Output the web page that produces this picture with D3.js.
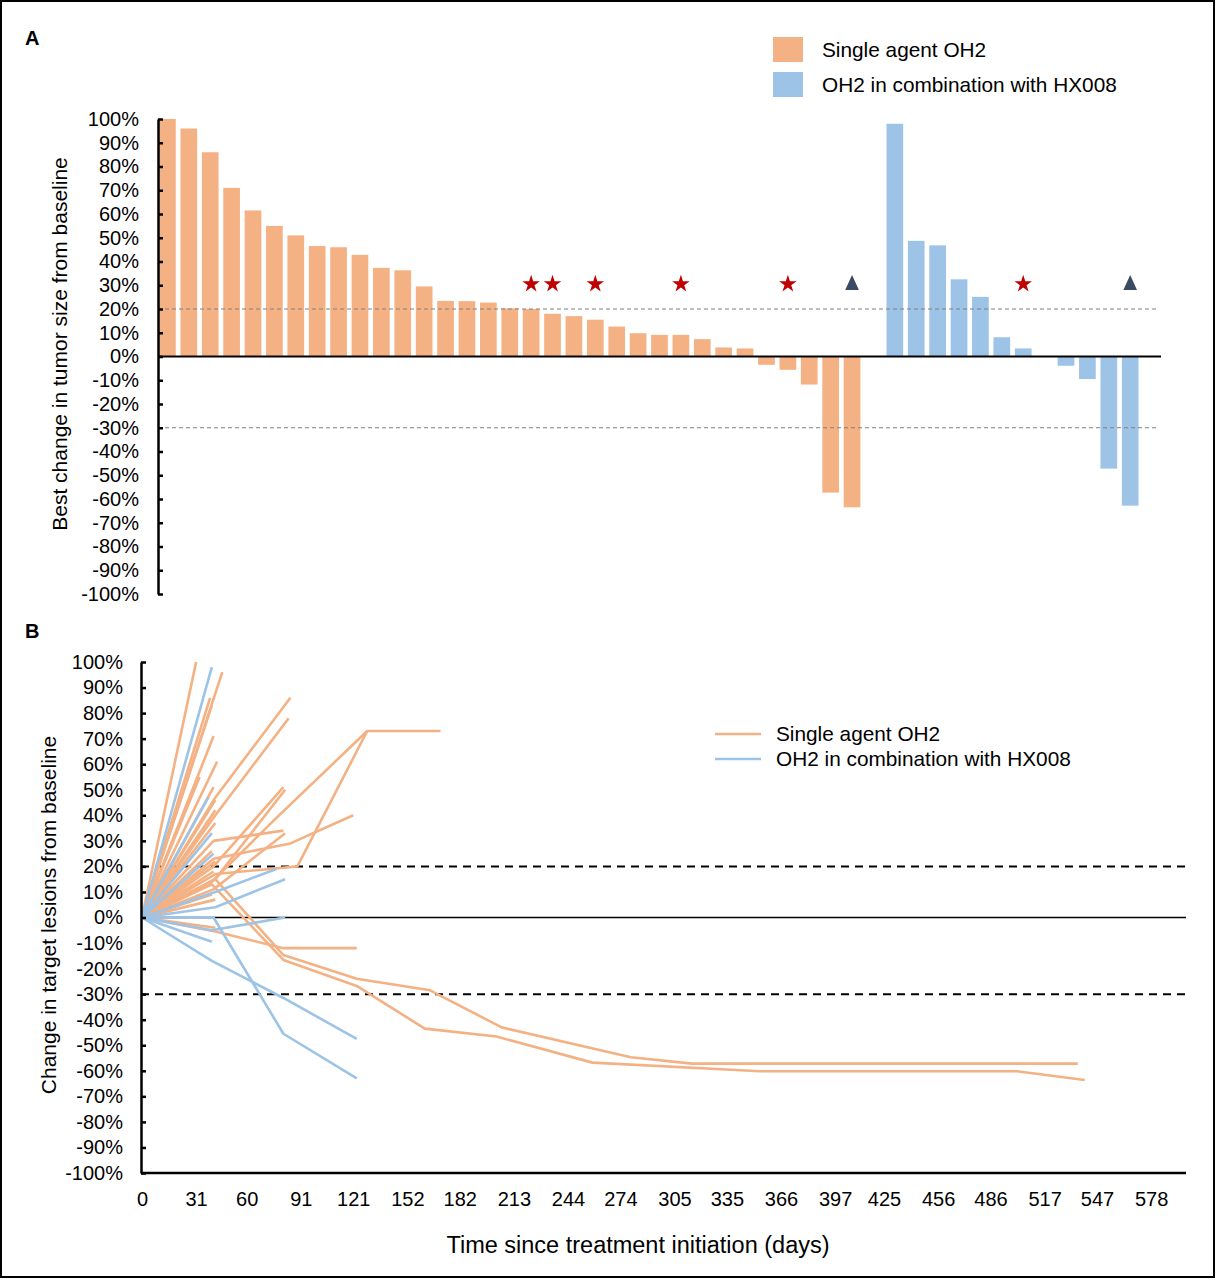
<!DOCTYPE html>
<html>
<head>
<meta charset="utf-8">
<script src="https://cdn.jsdelivr.net/npm/d3@7"></script>
<style>
  html, body { margin: 0; padding: 0; background: #fff; }
  svg { display: block; font-family: Arial, "Liberation Sans", Helvetica, sans-serif; }
</style>
</head>
<body>
<svg id="chart" width="1216" height="1280"></svg>
<script>
// ---------------- DATA ----------------
// Panel A: best change in tumor size (%), waterfall order
const singleAgentIds = d3.range(1, 34).map(i => "S" + i);
const singleAgentValues = [100, 96, 86, 71, 61.5, 55, 51, 46.5, 46, 42.8,
  37.3, 36.3, 29.5, 23.4, 23.3, 22.7, 20.3, 20, 18, 17,
  15.5, 12.6, 9.8, 9.1, 9.1, 7.3, 3.8, 3.4, -3.5, -5.6,
  -11.8, -57.3, -63.5];
const comboIds = d3.range(1, 12).map(i => "C" + i);
const comboValues = [98, 48.7, 46.8, 32.5, 25.1, 8.1, 3.4, -3.9, -9.5, -47.2, -62.8];
const categories = [...singleAgentIds, "gap1", ...comboIds.slice(0, 7), "gap2", ...comboIds.slice(7), "gap3"];
const starIds = ["S18", "S19", "S21", "S25", "S30", "C7"];
const triangleIds = ["S33", "C11"];
const markerLevel = 30.5;
const refLinesA = [20, -30];
const yTicksA = d3.range(-100, 101, 10);

// Panel B: change in target lesions over time [day, %]
const singleAgentLines = [
  [[0,0],[31,100]],
  [[0,0],[46,96]],
  [[0,0],[39,86]],
  [[0,0],[40,83]],
  [[0,0],[41,71]],
  [[0,0],[43,61]],
  [[0,0],[33,55]],
  [[0,0],[41,51]],
  [[0,0],[42,46]],
  [[0,0],[42,42]],
  [[0,0],[42,37]],
  [[0,0],[42,47],[85,86]],
  [[0,0],[42,40],[84,78]],
  [[0,0],[41,20],[81,51]],
  [[0,0],[42,15],[82,50]],
  [[0,0],[41,30],[81,34]],
  [[0,0],[41,11],[82,33]],
  [[0,0],[41,23],[85,29],[121,40]],
  [[0,0],[40,14],[77,39],[129,73]],
  [[0,0],[42,17],[89,20],[129,73],[171,73]],
  [[0,0],[40,26]],
  [[0,0],[42,22]],
  [[0,0],[41,18]],
  [[0,0],[40,9]],
  [[0,0],[42,7]],
  [[0,0],[42,-4]],
  [[0,0],[42,-5.5],[81,-12],[123,-12]],
  [[0,0],[42,15],[81,-14.7],[123,-24],[165,-28.5],[206,-43],[280,-54.7],[315,-57.2],[536,-57.2]],
  [[0,0],[40,13],[81,-16.6],[123,-26.8],[162,-43.5],[203,-46.6],[258,-56.8],[354,-60.2],[501,-60.2],[540,-63.6]]
];
const comboLines = [
  [[0,0],[40,98]],
  [[0,0],[38,47]],
  [[0,0],[40,33]],
  [[0,0],[41,25]],
  [[0,0],[42,10],[77,19]],
  [[0,0],[42,4],[82,15]],
  [[0,0],[40,-5],[82,0]],
  [[0,0],[40,-9.5]],
  [[0,0],[40,-17],[81,-31.5],[123,-47.5]],
  [[0,0],[41,0],[81,-45.5],[123,-63]]
];
const xTickDays = [0, 31, 60, 91, 121, 152, 182, 213, 244, 274, 305, 335, 366, 397, 425, 456, 486, 517, 547, 578];
const yTicksB = d3.range(-100, 101, 10);
const refLinesB = [20, -30];

const seriesNames = ["Single agent OH2", "OH2 in combination with HX008"];
const colors = { single: "#f4b183", combo: "#9dc3e6" };

// ---------------- DRAW ----------------
const svg = d3.select("#chart");
const pct = d => d + "%";
const FONT = "Arial, 'Liberation Sans', sans-serif";

// outer border
svg.append("rect").attr("x", 1).attr("y", 1).attr("width", 1213).attr("height", 1276)
  .attr("fill", "none").attr("stroke", "#000").attr("stroke-width", 2);

// panel labels
svg.append("text").attr("x", 25).attr("y", 45).attr("font-size", 20).attr("font-weight", "bold").text("A");
svg.append("text").attr("x", 25).attr("y", 638).attr("font-size", 20).attr("font-weight", "bold").text("B");

// ===== Panel A =====
const xA = d3.scaleBand().domain(categories).range([158, 1161]).paddingInner(0.22).paddingOuter(0.05);
const yA = d3.scaleLinear().domain([-100, 100]).range([594, 119]);

const barData = [
  ...singleAgentIds.map((id, i) => ({ id, v: singleAgentValues[i], c: colors.single })),
  ...comboIds.map((id, i) => ({ id, v: comboValues[i], c: colors.combo }))
];

const gA = svg.append("g");
gA.selectAll("rect.bar").data(barData).join("rect")
  .attr("class", "bar")
  .attr("x", d => xA(d.id))
  .attr("width", xA.bandwidth())
  .attr("y", d => yA(Math.max(0, d.v)))
  .attr("height", d => Math.abs(yA(d.v) - yA(0)))
  .attr("fill", d => d.c);

// reference dashed lines
gA.selectAll("line.ref").data(refLinesA).join("line")
  .attr("x1", 158).attr("x2", 1158)
  .attr("y1", d => yA(d)).attr("y2", d => yA(d))
  .attr("stroke", "#808080").attr("stroke-width", 1.2).attr("stroke-dasharray", "4,3");

// zero line
gA.append("line").attr("x1", 158).attr("x2", 1161).attr("y1", yA(0)).attr("y2", yA(0))
  .attr("stroke", "#000").attr("stroke-width", 2);

// y axis
const axA = gA.append("g").attr("transform", "translate(158,0)")
  .call(d3.axisLeft(yA).tickValues(yTicksA).tickFormat(pct).tickSizeInner(-5).tickSizeOuter(0).tickPadding(19));
axA.select(".domain").attr("stroke-width", 2.5);
axA.selectAll(".tick line").attr("stroke-width", 2.5);
axA.selectAll(".tick text").attr("font-size", 20).attr("font-family", FONT).attr("fill", "#000");

// markers
const star = d3.symbol().type(d3.symbolStar).size(95);
const tri = d3.symbol().type(d3.symbolTriangle).size(100);
gA.selectAll("path.star").data(starIds).join("path")
  .attr("d", star)
  .attr("transform", d => `translate(${xA(d) + xA.bandwidth() / 2},${yA(markerLevel)})`)
  .attr("fill", "#c00000");
gA.selectAll("path.tri").data(triangleIds).join("path")
  .attr("d", tri)
  .attr("transform", d => `translate(${xA(d) + xA.bandwidth() / 2},${yA(markerLevel) + 1}) scale(0.9,1.15)`)
  .attr("fill", "#3b4a63");

// y title
svg.append("text").attr("transform", `translate(67,344) rotate(-90)`)
  .attr("text-anchor", "middle").attr("font-size", 21).text("Best change in tumor size from baseline");

// legend A
const legA = svg.append("g");
seriesNames.forEach((name, i) => {
  legA.append("rect").attr("x", 773).attr("y", 37 + i * 35).attr("width", 30).attr("height", 25)
    .attr("fill", i === 0 ? colors.single : colors.combo);
  legA.append("text").attr("x", 822).attr("y", 50 + i * 35).attr("dy", "0.35em")
    .attr("font-size", 20.8).text(name);
});

// ===== Panel B =====
const xB = d3.scaleLinear().domain([0, 598]).range([142, 1186]);
const yB = d3.scaleLinear().domain([-100, 100]).range([1173, 662]);
const gB = svg.append("g");

// zero line
gB.append("line").attr("x1", 141).attr("x2", 1186).attr("y1", yB(0)).attr("y2", yB(0))
  .attr("stroke", "#000").attr("stroke-width", 1.5);
// dashed reference lines
gB.selectAll("line.ref").data(refLinesB).join("line")
  .attr("x1", 141).attr("x2", 1186)
  .attr("y1", d => yB(d)).attr("y2", d => yB(d))
  .attr("stroke", "#000").attr("stroke-width", 2).attr("stroke-dasharray", "8,6");

const line = d3.line().x(d => xB(d[0])).y(d => yB(d[1]));
gB.selectAll("path.single").data(singleAgentLines).join("path")
  .attr("d", line).attr("fill", "none").attr("stroke", colors.single)
  .attr("stroke-width", 2.6).attr("stroke-linejoin", "round");
gB.selectAll("path.combo").data(comboLines).join("path")
  .attr("d", line).attr("fill", "none").attr("stroke", colors.combo)
  .attr("stroke-width", 2.6).attr("stroke-linejoin", "round");

// y axis B
const axB = gB.append("g").attr("transform", "translate(141,0)")
  .call(d3.axisLeft(yB).tickValues(yTicksB).tickFormat(pct).tickSizeInner(-5).tickSizeOuter(0).tickPadding(18));
axB.select(".domain").attr("stroke-width", 2.5);
axB.selectAll(".tick line").attr("stroke-width", 2.5);
axB.selectAll(".tick text").attr("font-size", 20).attr("font-family", FONT).attr("fill", "#000");

// x axis B
const axX = gB.append("g").attr("transform", `translate(0,${yB(-100)})`)
  .call(d3.axisBottom(xB).tickValues(xTickDays).tickFormat(d => d).tickSize(0).tickPadding(19));
axX.select(".domain").attr("stroke-width", 2.5).attr("d", `M141,0H1186`);
axX.selectAll(".tick text").attr("font-size", 20).attr("font-family", FONT).attr("fill", "#000");

// titles B
svg.append("text").attr("transform", `translate(56,915) rotate(-90)`)
  .attr("text-anchor", "middle").attr("font-size", 21).text("Change in target lesions from baseline");
svg.append("text").attr("x", 638).attr("y", 1253).attr("text-anchor", "middle")
  .attr("font-size", 23.5).text("Time since treatment initiation (days)");

// legend B
const legB = svg.append("g");
seriesNames.forEach((name, i) => {
  legB.append("line").attr("x1", 715).attr("x2", 761).attr("y1", 734 + i * 25).attr("y2", 734 + i * 25)
    .attr("stroke", i === 0 ? colors.single : colors.combo).attr("stroke-width", 2.4);
  legB.append("text").attr("x", 776).attr("y", 734 + i * 25).attr("dy", "0.35em")
    .attr("font-size", 20.8).text(name);
});
</script>
</body>
</html>
